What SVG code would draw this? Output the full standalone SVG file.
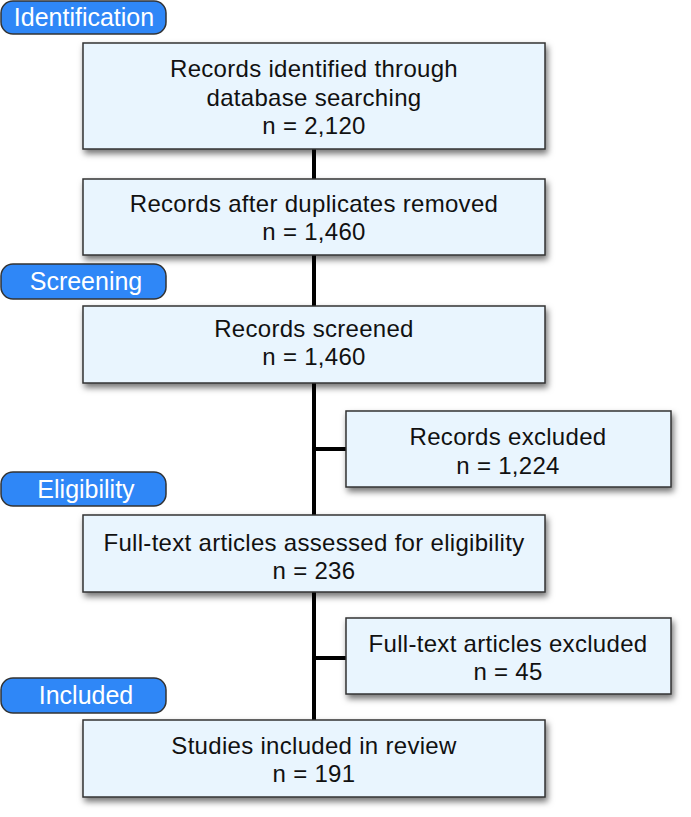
<svg xmlns="http://www.w3.org/2000/svg" width="691" height="817" viewBox="0 0 691 817">
<defs>
<filter id="sh" x="-10%" y="-10%" width="125%" height="140%">
<feDropShadow dx="2" dy="4" stdDeviation="3" flood-color="#000" flood-opacity="0.55"/>
</filter>
<style>
.box{fill:#e9f5fe;stroke:#333;stroke-width:1.5;filter:url(#sh)}
.pill{fill:#2f87f7;stroke:#333;stroke-width:1.5}
.t{font-family:"Liberation Sans",Arial,sans-serif;font-size:24px;letter-spacing:0.3px;fill:#111;text-anchor:middle}
.pt{font-family:"Liberation Sans",Arial,sans-serif;font-size:25px;fill:#fff;text-anchor:middle}
.c{stroke:#000;stroke-width:4;fill:none}
</style>
</defs>
<rect width="691" height="817" fill="#fff"/>
<g id="connectors">
<line class="c" x1="314" y1="149" x2="314" y2="720"/>
<line class="c" x1="314" y1="449" x2="346" y2="449"/>
<line class="c" x1="314" y1="658" x2="346" y2="658"/>
</g>
<g id="label-identification">
<rect class="pill" x="1" y="1" width="165" height="33" rx="12"/>
<text class="pt" x="84" y="26">Identification</text>
</g>
<g id="label-screening">
<rect class="pill" x="1" y="264" width="165" height="35" rx="12"/>
<text class="pt" x="86" y="290">Screening</text>
</g>
<g id="label-eligibility">
<rect class="pill" x="1" y="472" width="165" height="34" rx="12"/>
<text class="pt" x="86" y="498">Eligibility</text>
</g>
<g id="label-included">
<rect class="pill" x="1" y="678" width="165" height="35" rx="12"/>
<text class="pt" x="86" y="704">Included</text>
</g>
<g id="node-identified">
<rect class="box" x="83" y="43" width="462" height="106"/>
<text class="t" x="314" y="77">Records identified through</text>
<text class="t" x="314" y="106">database searching</text>
<text class="t" x="314" y="134">n = 2,120</text>
</g>
<g id="node-duplicates">
<rect class="box" x="83" y="179" width="462" height="76"/>
<text class="t" x="314" y="212">Records after duplicates removed</text>
<text class="t" x="314" y="240">n = 1,460</text>
</g>
<g id="node-screened">
<rect class="box" x="83" y="306" width="462" height="77"/>
<text class="t" x="314" y="337">Records screened</text>
<text class="t" x="314" y="365">n = 1,460</text>
</g>
<g id="node-excluded1">
<rect class="box" x="346" y="411" width="325" height="76"/>
<text class="t" x="508" y="445">Records excluded</text>
<text class="t" x="508" y="474">n = 1,224</text>
</g>
<g id="node-fulltext">
<rect class="box" x="83" y="515" width="462" height="77"/>
<text class="t" x="314" y="551">Full-text articles assessed for eligibility</text>
<text class="t" x="314" y="579">n = 236</text>
</g>
<g id="node-excluded2">
<rect class="box" x="346" y="618" width="325" height="76"/>
<text class="t" x="508" y="652">Full-text articles excluded</text>
<text class="t" x="508" y="680">n = 45</text>
</g>
<g id="node-included">
<rect class="box" x="83" y="720" width="462" height="77"/>
<text class="t" x="314" y="754">Studies included in review</text>
<text class="t" x="314" y="782">n = 191</text>
</g>
</svg>
